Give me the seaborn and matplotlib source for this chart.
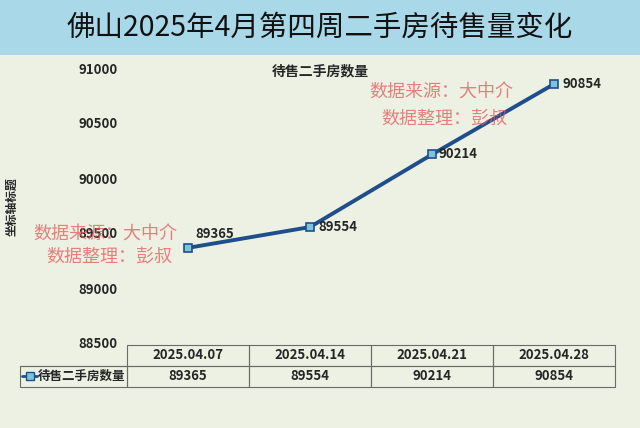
import matplotlib
matplotlib.use('Agg')
import matplotlib.pyplot as plt
import seaborn as sns
import pandas as pd
from matplotlib.lines import Line2D
from matplotlib.patches import Rectangle

dates = ['2025.04.07', '2025.04.14', '2025.04.21', '2025.04.28']
values = [89365, 89554, 90214, 90854]
series_name = '待售二手房数量'
y_ticks = [88500, 89000, 89500, 90000, 90500, 91000]

sns.set_style('white')
plt.rcParams['font.family'] = ['Noto Sans CJK SC', 'DejaVu Sans']

bg = '#edf1e3'
band = '#a9d8e8'
line_col = '#1f4e8c'
mark_col = '#7cc4dc'
wm_col = '#e05a5a'

df = pd.DataFrame({'date': dates, 'value': values})

fig = plt.figure(figsize=(6.4, 4.28), dpi=100)
fig.patch.set_facecolor(bg)
fig.add_artist(Rectangle((0, 1 - 55 / 428), 1, 55 / 428, transform=fig.transFigure,
                         facecolor=band, edgecolor='none', zorder=0))
fig.text(0.5, 1 - 28 / 428, '佛山2025年4月第四周二手房待售量变化', ha='center', va='center',
         fontsize=20.5, color='#111111')

ax = fig.add_axes([127 / 640, 1 - 343 / 428, 488 / 640, 275 / 428])
ax.set_facecolor('none')
sns.lineplot(data=df, x='date', y='value', ax=ax, color=line_col, linewidth=2.8,
             marker='s', markersize=6, markerfacecolor=mark_col,
             markeredgecolor=line_col, markeredgewidth=1.2, sort=False)
ax.set_xlim(-0.5, 3.5)
ax.set_ylim(88500, 91000)
ax.set_yticks(y_ticks)
ax.set_yticklabels([str(v) for v in y_ticks], fontsize=9.5, fontweight='bold')
ax.tick_params(axis='y', length=0, pad=7)
ax.set_xticks([])
ax.set_xlabel('')
ax.set_ylabel('')
for s in ax.spines.values():
    s.set_visible(False)

label_offsets = [(5, 10), (6, 0), (5, 0), (6, 0)]
for i, v in enumerate(values):
    ax.annotate(str(v), (i, v), xytext=label_offsets[i], textcoords='offset points',
                ha='left', va='center', fontsize=9.5, fontweight='bold')

fig.text(320 / 640, 1 - 71 / 428, series_name, ha='center', va='center',
         fontsize=10, fontweight='bold')
fig.text(12 / 640, 1 - 207 / 428, '坐标轴标题', ha='center', va='center',
         rotation=90, fontsize=8.5, fontweight='bold')

# data table under the chart
cells = [[''] + dates, [''] + [str(v) for v in values]]
tbl = ax.table(cellText=cells, colWidths=[107, 122, 122, 122, 122], cellLoc='center',
               bbox=[(20 - 127) / 488, -44 / 275, 595 / 488, 42 / 275])
tbl.auto_set_font_size(False)
for (r, c), cell in tbl.get_celld().items():
    cell.set_facecolor('none')
    cell.set_edgecolor('#6b6b6b')
    cell.set_linewidth(0.8)
    cell.get_text().set_fontsize(9.5)
    cell.get_text().set_fontweight('bold')
    if r == 0 and c == 0:
        cell.visible_edges = 'B'
fig.add_artist(Line2D([22 / 640, 37 / 640], [1 - 376 / 428] * 2, transform=fig.transFigure,
                      color=line_col, linewidth=2))
fig.add_artist(Line2D([29.5 / 640], [1 - 376 / 428], transform=fig.transFigure,
                      color=line_col, marker='s', markersize=5.5,
                      markerfacecolor=mark_col, markeredgecolor=line_col))
fig.text(38 / 640, 1 - 376 / 428, series_name, ha='left', va='center',
         fontsize=9, fontweight='bold')

# watermark
for x0, y0, x1, y1 in [(105, 235, 109, 257), (441, 93, 444, 119)]:
    fig.text(x0 / 640, 1 - y0 / 428, '数据来源：大中介', ha='center', va='center',
             fontsize=13, color=wm_col, alpha=0.75)
    fig.text(x1 / 640, 1 - y1 / 428, '数据整理：彭叔', ha='center', va='center',
             fontsize=13, color=wm_col, alpha=0.75)

fig.savefig('out.png', dpi=100, facecolor=bg)
